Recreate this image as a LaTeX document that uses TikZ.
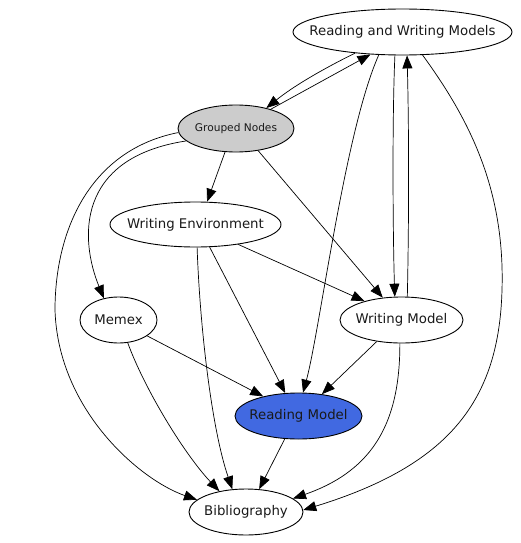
\documentclass[tikz,border=0pt]{standalone}
\usepackage{fontspec}
\newfontfamily\dvfont{DejaVu Sans}
\usetikzlibrary{shapes.geometric,arrows.meta}
\definecolor{gnfill}{RGB}{204,204,204}
\definecolor{rmfill}{RGB}{65,105,225}
\newcommand{\zb}[1]{\makebox[0pt]{#1}}
\tikzset{
  nd/.style={ellipse, draw=black, line width=0.9pt, inner sep=0pt, minimum height=46pt,
    font=\dvfont\fontsize{13.3}{15}\selectfont, text=black!90},
  edge/.style={line width=0.7pt, draw=black, -{Triangle[length=13pt,width=10pt]}},
}
\begin{document}
\begin{tikzpicture}[x=1pt,y=-1pt]
\useasboundingbox (0,0) rectangle (521,543);
\node[nd, minimum width=219pt] (rwm) at (402.5,32) {\zb{Reading and Writing Models}};
\node[nd, minimum width=116pt, fill=gnfill, minimum height=47pt, font=\dvfont\fontsize{10.6}{12}\selectfont] (gn) at (236,128.5) {\zb{Grouped Nodes}};
\node[nd, minimum width=171pt, minimum height=45pt] (we) at (195.5,224.5) {\zb{Writing Environment}};
\node[nd, minimum width=77pt] (mem) at (118.5,320) {\zb{Memex}};
\node[nd, minimum width=123pt] (wm) at (401.5,320) {\zb{Writing Model}};
\node[nd, minimum width=127pt, fill=rmfill] (rm) at (298.5,416) {\zb{Reading Model}};
\node[nd, minimum width=114pt] (bib) at (246,512) {\zb{Bibliography}};

% Reading and Writing Models edges
\draw[edge] (rwm.204.8) .. controls (325,68) and (295,85) .. (gn.34.7);
\draw[edge] (gn.29) -- (rwm.215.3);
\draw[edge] (rwm.252) .. controls (392,120) and (393,240) .. (wm.106);
\draw[edge] (wm.76.5) .. controls (409,220) and (409,130) .. (rwm.281);
\draw[edge] (rwm.224.4) .. controls (345,130) and (320,330) .. (rm.79);
\draw[edge] (rwm.311.7) .. controls (470,120) and (505,190) .. (502,290)
  .. controls (499,400) and (450,465) .. (bib.2);

% Grouped Nodes edges
\draw[edge] (gn.245) -- (we.63);
\draw[edge] (gn.194.3) .. controls (75,158) and (80,240) .. (mem.124);
\draw[edge] (gn.184.4) .. controls (90,150) and (55,230) .. (55,310)
  .. controls (58,410) and (140,480) .. (bib.166.8);
\draw[edge] (gn.315.7) -- (wm.130);

% Writing Environment edges
\draw[edge] (we.335.4) -- (wm.153);
\draw[edge] (we.302.8) -- (rm.120.4);
\draw[edge] (we.274) .. controls (200,330) and (212,430) .. (bib.121);

% Memex edges
\draw[edge] (mem.331.6) -- (rm.151.4);
\draw[edge] (mem.292.4) .. controls (145,390) and (185,455) .. (bib.142.8);

% Writing Model edges
\draw[edge] (wm.221.9) -- (rm.43.2);
\draw[edge] (wm.266) .. controls (400,420) and (375,470) .. (bib.16.4);

% Reading Model edge
\draw[edge] (rm.239.6) -- (bib.60.5);
\end{tikzpicture}
\end{document}
